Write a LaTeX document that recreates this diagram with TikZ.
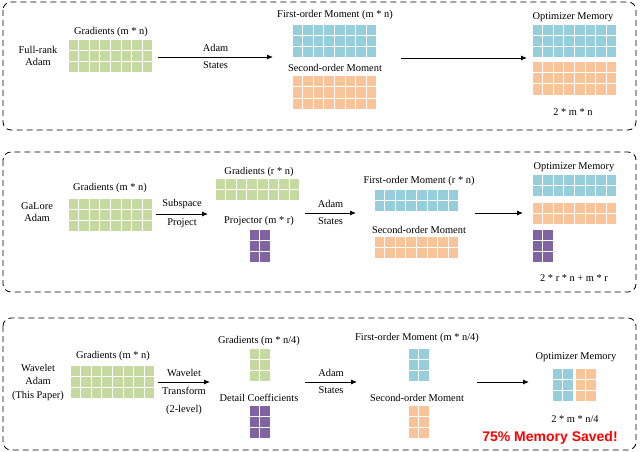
\documentclass[tikz,border=0pt]{standalone}
\usepackage{fontspec}
\setmainfont{Liberation Serif}
\newfontfamily\savedfont{Liberation Sans}
\usetikzlibrary{positioning,arrows.meta}

\definecolor{gradgreen}{RGB}{197,217,160}
\definecolor{momblue}{RGB}{150,206,220}
\definecolor{momorange}{RGB}{249,196,154}
\definecolor{projpurple}{RGB}{128,100,162}

\tikzset{
  panel/.style={dash pattern=on 6pt off 4pt, rounded corners=8pt, line width=0.8pt},
  arr/.style={-{Latex[length=6pt,width=5pt]}, line width=0.9pt},
}

% block of cells: name, left, top, columns, rows, colour
\newcommand{\cellblock}[6]{%
  \foreach \i in {1,...,#4}{%
    \foreach \j in {1,...,#5}{%
      \fill[#6] ({#2+(\i-1)*10.6+0.5},{#3+(\j-1)*11+0.5}) rectangle ++(9.6,10);
    }}
  \coordinate (#1) at ({#2+#4*5.3},{#3+#5*5.5});
}

\begin{document}
\begin{tikzpicture}[x=1pt,y=-1pt,font=\fontsize{10.4}{12}\selectfont]
    \useasboundingbox (0,0) rectangle (640,452);

    % Full-rank Adam
    \draw[panel] (3,2) rectangle (636,130);
    \node[align=center] (p1name) at (38,56) {Full-rank\\Adam};
    \node (p1gradlbl) at (111,32) {Gradients (m * n)};
    \cellblock{p1grad}{68}{40}{8}{3}{gradgreen}
    \coordinate (p1a) at (158,57);
    \coordinate (p1b) at (273,57);
    \draw[arr] (p1a) -- (p1b) node[midway, above=2pt] {Adam} node[midway, below=1pt] {States};
    \node (p1m1lbl) at (335,15) {First-order Moment (m * n)};
    \cellblock{p1m1}{292}{25}{8}{3}{momblue}
    \node (p1m2lbl) at (335,68) {Second-order Moment};
    \cellblock{p1m2}{292}{76}{8}{3}{momorange}
    \coordinate (p1c) at (401,58);
    \coordinate (p1d) at (527,58);
    \draw[arr] (p1c) -- (p1d);
    \node (p1memlbl) at (573,17) {Optimizer Memory};
    \cellblock{p1mem1}{532}{25}{8}{3}{momblue}
    \cellblock{p1mem2}{532}{62}{8}{3}{momorange}
    \node (p1total) at (573,112) {2 * m * n};

    % GaLore Adam
    \draw[panel] (3,152) rectangle (636,292);
    \node[align=center] (p2name) at (37,212) {GaLore\\Adam};
    \node (p2gradlbl) at (110,188) {Gradients (m * n)};
    \cellblock{p2grad}{68}{198}{8}{3}{gradgreen}
    \coordinate (p2a) at (156,214);
    \coordinate (p2b) at (208,214);
    \draw[arr] (p2a) -- (p2b) node[midway, above=2pt] {Subspace} node[midway, below=1pt] {Project};
    \node (p2lowlbl) at (259,172) {Gradients (r * n)};
    \cellblock{p2low}{215}{178}{8}{2}{gradgreen}
    \node (p2projlbl) at (259,221) {Projector (m * r)};
    \cellblock{p2proj}{249}{229}{2}{3}{projpurple}
    \coordinate (p2c) at (305,213);
    \coordinate (p2d) at (356,213);
    \draw[arr] (p2c) -- (p2d) node[midway, above=2pt] {Adam} node[midway, below=1pt] {States};
    \node (p2m1lbl) at (419,181) {First-order Moment (r * n)};
    \cellblock{p2m1}{374}{189}{8}{2}{momblue}
    \node (p2m2lbl) at (419,230) {Second-order Moment};
    \cellblock{p2m2}{374}{236}{8}{2}{momorange}
    \coordinate (p2e) at (475,213);
    \coordinate (p2f) at (523,213);
    \draw[arr] (p2e) -- (p2f);
    \node (p2memlbl) at (574,167) {Optimizer Memory};
    \cellblock{p2mem1}{532}{174}{8}{2}{momblue}
    \cellblock{p2mem2}{532}{202}{8}{2}{momorange}
    \cellblock{p2mem3}{532}{229}{2}{3}{projpurple}
    \node (p2total) at (574,278) {2 * r * n + m * r};

    % Wavelet Adam
    \draw[panel] (3,318) rectangle (636,450);
    \node[align=center, font=\fontsize{10.4}{13.5}\selectfont] (p3name) at (38,382) {Wavelet\\Adam\\(This Paper)};
    \node (p3gradlbl) at (113,356) {Gradients (m * n)};
    \cellblock{p3grad}{70}{365}{8}{3}{gradgreen}
    \coordinate (p3a) at (158,382);
    \coordinate (p3b) at (210,382);
    \draw[arr] (p3a) -- (p3b) node[midway, above=2pt] {Wavelet} node[midway, below=1pt] (p3tf) {Transform};
    \node[below=4pt of p3tf] (p3lvl) {(2-level)};
    \node (p3lowlbl) at (259,341) {Gradients (m * n/4)};
    \cellblock{p3low}{249}{348}{2}{3}{gradgreen}
    \node (p3detlbl) at (259,398) {Detail Coefficients};
    \cellblock{p3det}{249}{405}{2}{3}{projpurple}
    \coordinate (p3c) at (305,382);
    \coordinate (p3d) at (357,382);
    \draw[arr] (p3c) -- (p3d) node[midway, above=2pt] {Adam} node[midway, below=1pt] {States};
    \node (p3m1lbl) at (417,338) {First-order Moment (m * n/4)};
    \cellblock{p3m1}{408}{348}{2}{3}{momblue}
    \node (p3m2lbl) at (417,398) {Second-order Moment};
    \cellblock{p3m2}{408}{405}{2}{3}{momorange}
    \coordinate (p3e) at (477,382);
    \coordinate (p3f) at (529,382);
    \draw[arr] (p3e) -- (p3f);
    \node (p3memlbl) at (576,357) {Optimizer Memory};
    \cellblock{p3mem1}{552}{368}{2}{3}{momblue}
    \cellblock{p3mem2}{575}{368}{2}{3}{momorange}
    \node (p3total) at (575,419) {2 * m * n/4};
    \node[text=red, font=\savedfont\bfseries\fontsize{14}{14}\selectfont] (p3saved) at (550,438) {75\% Memory Saved!};
\end{tikzpicture}
\end{document}
